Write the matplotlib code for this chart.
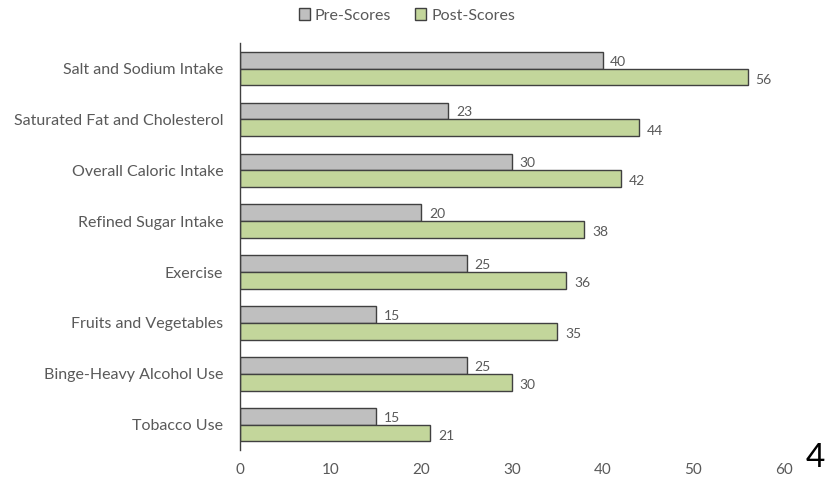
import matplotlib.pyplot as plt
import numpy as np

plt.rcParams["font.family"] = ["Lato", "DejaVu Sans"]

categories = [
    "Salt and Sodium Intake",
    "Saturated Fat and Cholesterol",
    "Overall Caloric Intake",
    "Refined Sugar Intake",
    "Exercise",
    "Fruits and Vegetables",
    "Binge-Heavy Alcohol Use",
    "Tobacco Use",
]
pre_scores = [40, 23, 30, 20, 25, 15, 25, 15]
post_scores = [56, 44, 42, 38, 36, 35, 30, 21]
x_ticks = [0, 10, 20, 30, 40, 50, 60]

text_color = "#595959"
edge_color = "#404040"

fig = plt.figure(figsize=(8.27, 4.8), dpi=100)
ax = fig.add_axes([0.290, 0.0625, 0.658, 0.8475])

y = np.arange(len(categories))
h = 0.33

bars_pre = ax.barh(y - h / 2, pre_scores, height=h, color="#BFBFBF",
                   edgecolor=edge_color, linewidth=1.0, label="Pre-Scores")
bars_post = ax.barh(y + h / 2, post_scores, height=h, color="#C3D69B",
                    edgecolor=edge_color, linewidth=1.0, label="Post-Scores")

# value labels at the end of each bar
for bars, vals, dy in ((bars_pre, pre_scores, -1), (bars_post, post_scores, -2)):
    for b, v in zip(bars, vals):
        ax.annotate(str(v), xy=(v, b.get_y() + b.get_height() / 2),
                    xytext=(5.5, dy), textcoords="offset points",
                    ha="left", va="center", fontsize=10, color=text_color)

ax.set_ylim(len(categories) - 0.5, -0.5)
ax.set_xlim(0, 60)
ax.set_yticks(y)
ax.set_yticklabels(categories, fontsize=11.5, color=text_color)
ax.set_xticks(x_ticks)
ax.set_xticklabels([str(t) for t in x_ticks], fontsize=11, color=text_color)
ax.tick_params(axis="both", length=0)
ax.tick_params(axis="x", pad=9)
ax.tick_params(axis="y", pad=12)

for s in ("top", "right", "bottom"):
    ax.spines[s].set_visible(False)
ax.spines["left"].set_color(edge_color)
ax.spines["left"].set_linewidth(1.0)

ax.legend(loc="center", bbox_to_anchor=(0.307, 1.068), ncol=2,
          frameon=False, fontsize=11.5, handlelength=0.7, handleheight=0.7,
          handletextpad=0.3, columnspacing=1.5, labelcolor=text_color)

# page number
fig.text(0.998, 0.015, "4", fontsize=24, color="black", ha="right", va="bottom")

fig.savefig("out.png", dpi=100)
